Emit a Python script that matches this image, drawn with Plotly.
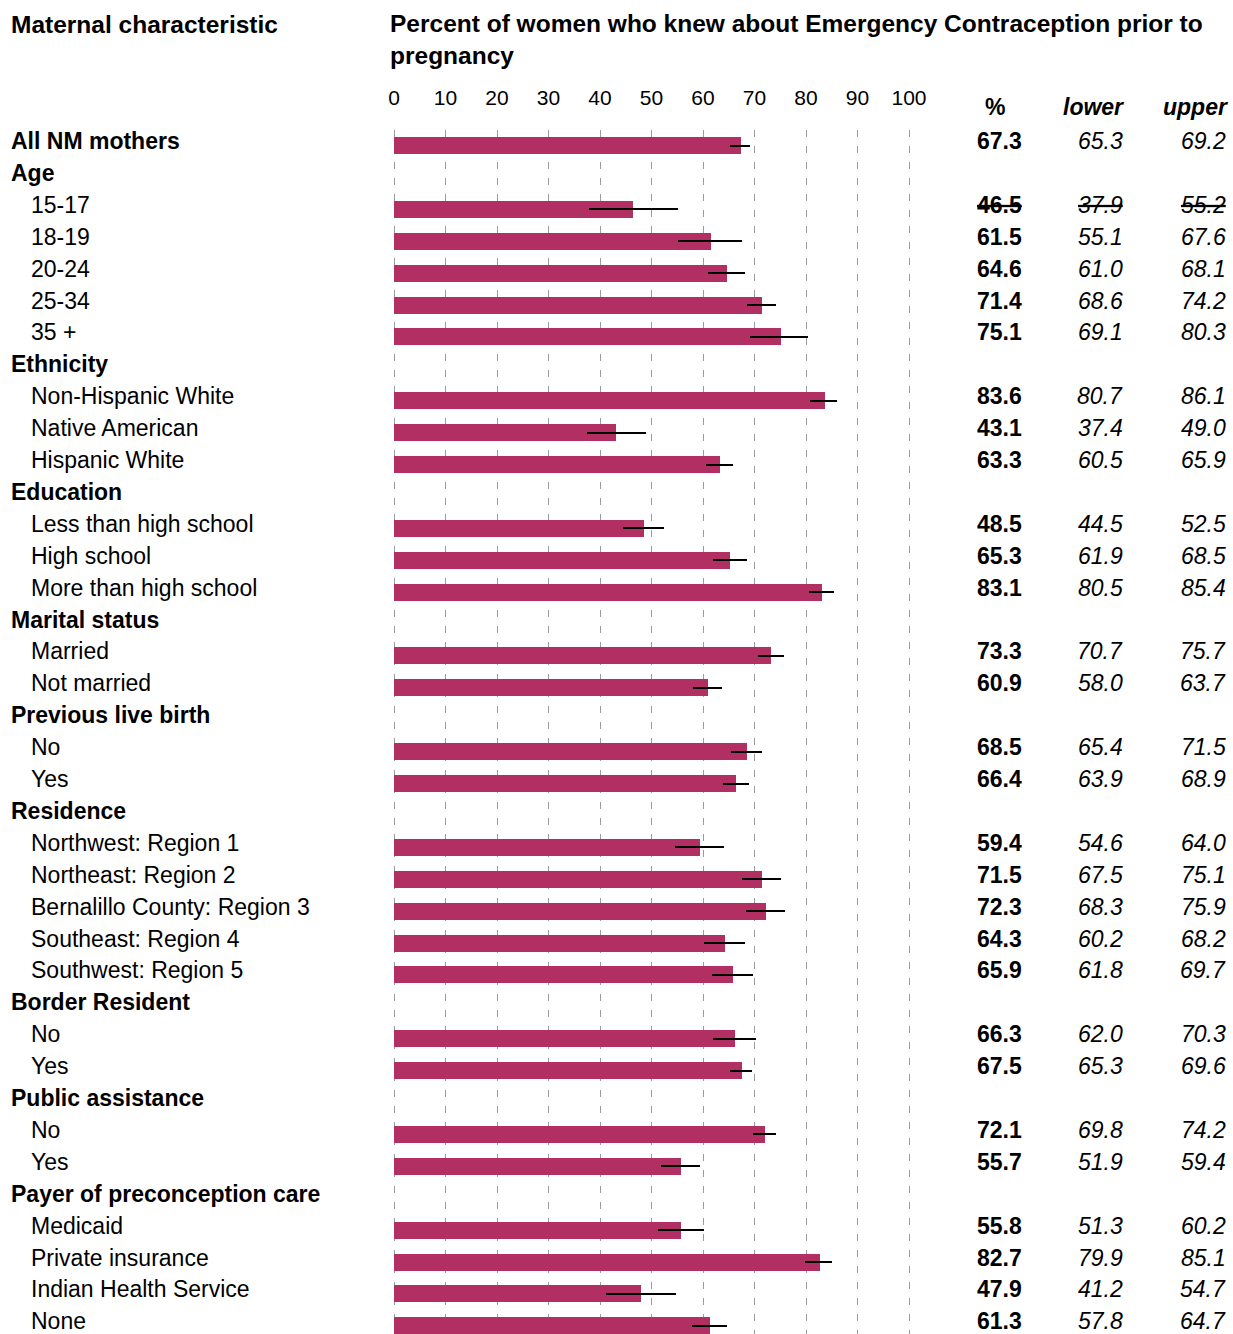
import plotly.graph_objects as go

# Row labels (section headers have no estimate)
labels = [
    "All NM mothers", "Age", "15-17", "18-19", "20-24", "25-34", "35 +",
    "Ethnicity", "Non-Hispanic White", "Native American", "Hispanic White",
    "Education", "Less than high school", "High school", "More than high school",
    "Marital status", "Married", "Not married",
    "Previous live birth", "No", "Yes",
    "Residence", "Northwest: Region 1", "Northeast: Region 2",
    "Bernalillo County: Region 3", "Southeast: Region 4", "Southwest: Region 5",
    "Border Resident", "No", "Yes",
    "Public assistance", "No", "Yes",
    "Payer of preconception care", "Medicaid", "Private insurance",
    "Indian Health Service", "None",
]
pct = [
    67.3, None, 46.5, 61.5, 64.6, 71.4, 75.1,
    None, 83.6, 43.1, 63.3,
    None, 48.5, 65.3, 83.1,
    None, 73.3, 60.9,
    None, 68.5, 66.4,
    None, 59.4, 71.5, 72.3, 64.3, 65.9,
    None, 66.3, 67.5,
    None, 72.1, 55.7,
    None, 55.8, 82.7, 47.9, 61.3,
]
lower = [
    65.3, None, 37.9, 55.1, 61.0, 68.6, 69.1,
    None, 80.7, 37.4, 60.5,
    None, 44.5, 61.9, 80.5,
    None, 70.7, 58.0,
    None, 65.4, 63.9,
    None, 54.6, 67.5, 68.3, 60.2, 61.8,
    None, 62.0, 65.3,
    None, 69.8, 51.9,
    None, 51.3, 79.9, 41.2, 57.8,
]
upper = [
    69.2, None, 55.2, 67.6, 68.1, 74.2, 80.3,
    None, 86.1, 49.0, 65.9,
    None, 52.5, 68.5, 85.4,
    None, 75.7, 63.7,
    None, 71.5, 68.9,
    None, 64.0, 75.1, 75.9, 68.2, 69.7,
    None, 70.3, 69.6,
    None, 74.2, 59.4,
    None, 60.2, 85.1, 54.7, 64.7,
]
# Estimates flagged as unreliable (shown struck through)
unreliable = [2]
x_ticks = [0, 10, 20, 30, 40, 50, 60, 70, 80, 90, 100]

W, H = 1233, 1334
FONT = "Liberation Sans, Arial, sans-serif"
BAR = "#B22F63"
TXT = 23
HEAD = 24.5
ROW = 31.9        # pixels per table row
FIRST = 145.5     # pixel centre of the first bar
PLOT_TOP = 130    # top of the gridline area
X0, X100 = 394, 909   # pixel positions of 0 and 100 on the percent axis
PAD = 5               # room on both sides so the edge gridlines are drawn
PX_PER_UNIT = (X100 - X0) / 100

bx, by, ep, em = [], [], [], []
for i, v in enumerate(pct):
    if v is not None:
        bx.append(v)
        by.append(i)
        ep.append(round(upper[i] - v, 2))
        em.append(round(v - lower[i], 2))

fig = go.Figure()
fig.add_trace(go.Bar(
    x=bx, y=by, orientation="h", width=17 / ROW,
    marker=dict(color=BAR, line=dict(width=0)),
    error_x=dict(type="data", symmetric=False, array=ep, arrayminus=em,
                 color="black", thickness=2, width=0),
    hoverinfo="x+y",
))

ann = []
text_off = -4.5 / ROW
for i, lab in enumerate(labels):
    top = pct[i] is None or i == 0
    ann.append(dict(
        x=(9 if top else 29) / W, xref="paper", xanchor="left",
        y=i + text_off, yref="y", yanchor="middle",
        text=f"<b>{lab}</b>" if top else lab, showarrow=False,
        font=dict(size=TXT, color="black", family=FONT),
    ))
    if pct[i] is not None:
        cells = [
            (1024, f"<b>{pct[i]:.1f}</b>"),
            (1125, f"<i>{lower[i]:.1f}</i>"),
            (1228, f"<i>{upper[i]:.1f}</i>"),
        ]
        for xr, t in cells:
            if i in unreliable:
                t = f"<s>{t}</s>"
            ann.append(dict(
                x=xr / W, xref="paper", xanchor="right",
                y=i + text_off, yref="y", yanchor="middle",
                text=t, showarrow=False,
                font=dict(size=TXT, color="black", family=FONT),
            ))

# Column headers
for xr, anchor, t in [(995, "center", "<b>%</b>"),
                      (1126, "right", "<b><i>lower</i></b>"),
                      (1230, "right", "<b><i>upper</i></b>")]:
    ann.append(dict(x=xr / W, xref="paper", xanchor=anchor,
                    y=1 - 107 / H, yref="paper", yanchor="middle",
                    text=t, showarrow=False,
                    font=dict(size=TXT, color="black", family=FONT)))

ann.append(dict(x=9 / W, xref="paper", xanchor="left",
                y=1 - 24 / H, yref="paper", yanchor="middle",
                text="<b>Maternal characteristic</b>", showarrow=False,
                font=dict(size=HEAD, color="black", family=FONT)))
ann.append(dict(x=388 / W, xref="paper", xanchor="left",
                y=1 - 8 / H, yref="paper", yanchor="top", align="left",
                text="<b>Percent of women who knew about Emergency Contraception prior to</b>"
                     "<br><b>pregnancy</b>",
                showarrow=False,
                font=dict(size=HEAD, color="black", family=FONT)))

fig.update_layout(
    width=W, height=H, autosize=False,
    margin=dict(l=0, r=0, t=0, b=0, pad=0, autoexpand=False),
    paper_bgcolor="white", plot_bgcolor="white",
    showlegend=False,
    bargap=0,
    annotations=ann,
    xaxis=dict(
        domain=[(X0 - PAD) / W, (X100 + PAD) / W],
        range=[-PAD / PX_PER_UNIT, 100 + PAD / PX_PER_UNIT],
        side="top",
        tickvals=x_ticks, ticks="", ticklabelstandoff=20, automargin=False,
        tickfont=dict(size=21, color="black", family=FONT),
        showgrid=True, gridcolor="#9a9a9a", gridwidth=1, griddash="7px,9px",
        zeroline=False, showline=False,
    ),
    yaxis=dict(
        domain=[0, 1 - PLOT_TOP / H],
        range=[(H - FIRST) / ROW, (PLOT_TOP - FIRST) / ROW],
        visible=False, showgrid=False, zeroline=False, automargin=False,
    ),
)

fig.write_html(
    "out.html",
    config={"responsive": False},
    post_script="document.body.style.margin='0';document.body.style.overflow='hidden';",
)
